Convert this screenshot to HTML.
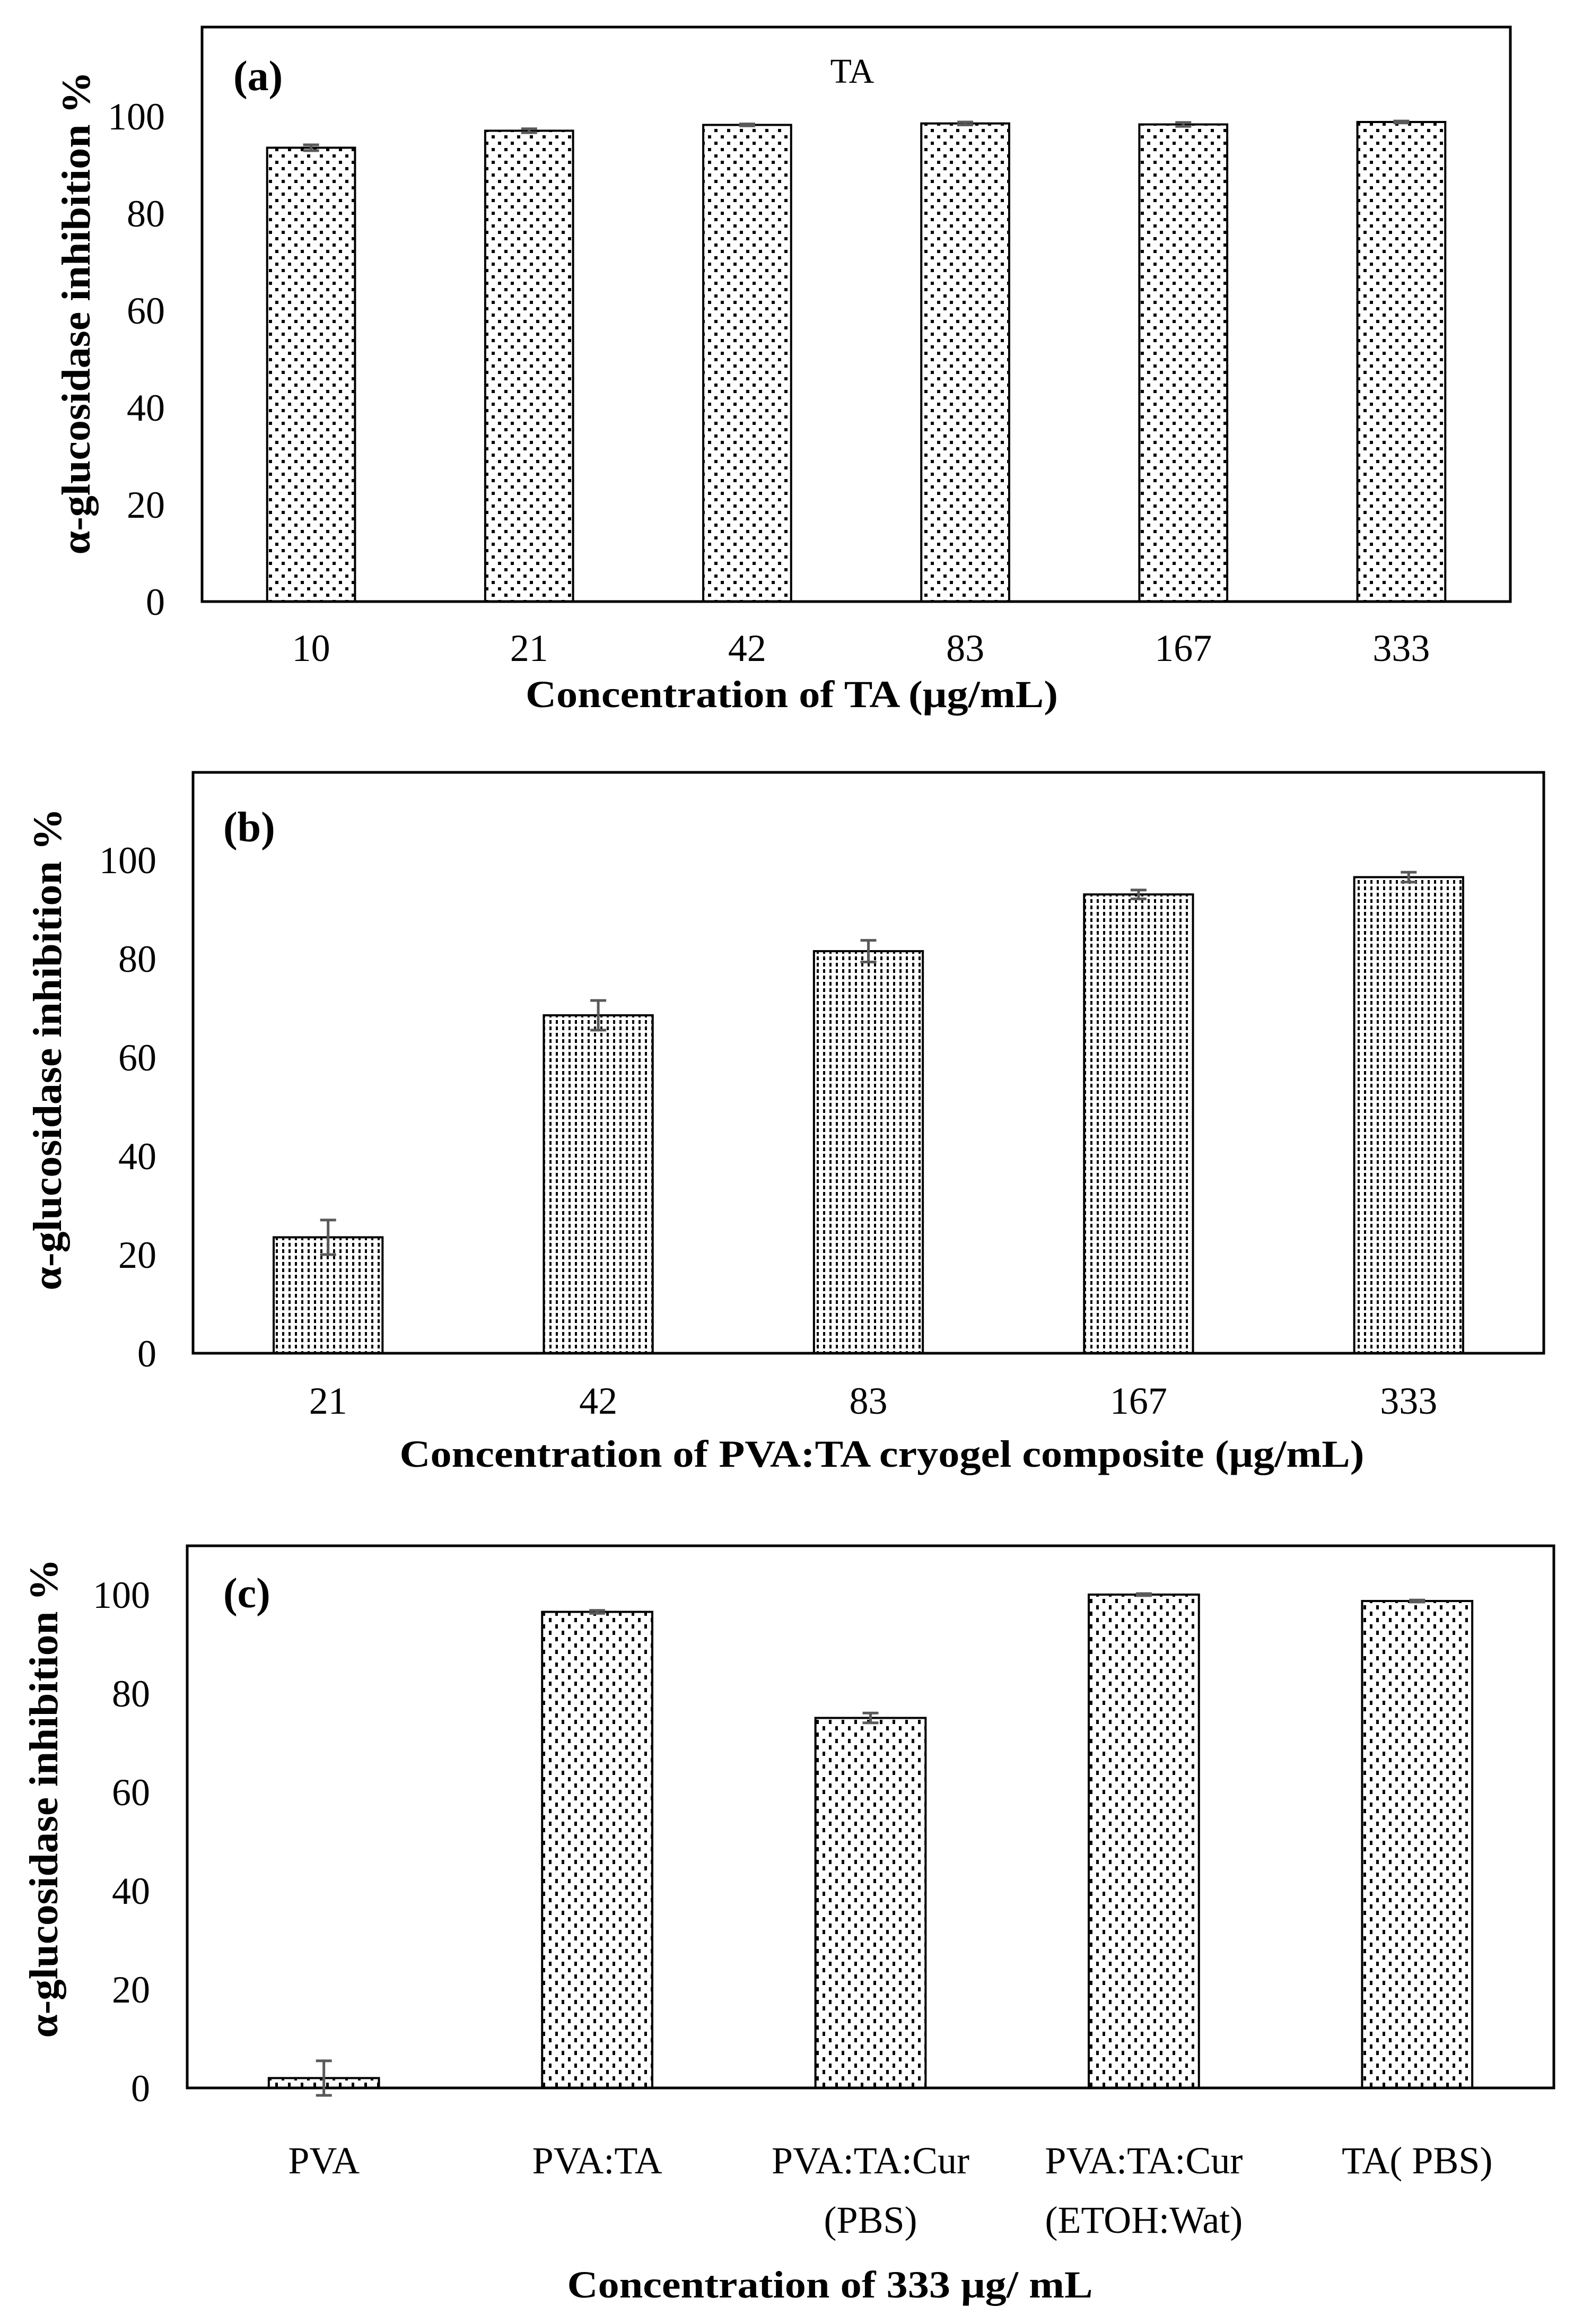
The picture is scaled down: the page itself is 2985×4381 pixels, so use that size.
<!DOCTYPE html>
<html><head><meta charset="utf-8"><style>
html,body{margin:0;padding:0;background:#fff;}
svg{display:block;}
text{font-family:"Liberation Serif",serif;fill:#000;}
</style></head><body>
<svg id="chart" width="2985" height="4381" viewBox="0 0 2985 4381" xmlns="http://www.w3.org/2000/svg">
<defs>
<pattern id="patA" width="24" height="24" patternUnits="userSpaceOnUse">
<rect x="3" y="3" width="6" height="6" fill="#000"/><rect x="15" y="15" width="6" height="6" fill="#000"/></pattern>
<pattern id="patB" width="12" height="12" patternUnits="userSpaceOnUse">
<rect x="4" y="3" width="4" height="7" fill="#000"/></pattern>
<pattern id="patC" width="24" height="24" patternUnits="userSpaceOnUse">
<rect x="3" y="2" width="5" height="8" fill="#000"/><rect x="15" y="14" width="5" height="8" fill="#000"/></pattern>
</defs>
<g id="root"></g>
</svg>
<script>
const catsA = ["10","21","42","83","167","333"];
const valsA = [93.5, 97, 98.2, 98.5, 98.3, 98.8];
const errsA = [0.6, 0.4, 0.2, 0.3, 0.4, 0.2];
const catsB = ["21","42","83","167","333"];
const valsB = [23.5, 68.5, 81.5, 93, 96.5];
const errsB = [3.5, 3, 2.2, 0.9, 1];
const catsC = [["PVA"],["PVA:TA"],["PVA:TA:Cur","(PBS)"],["PVA:TA:Cur","(ETOH:Wat)"],["TA( PBS)"]];
const valsC = [2, 96.5, 75, 100, 98.7];
const errsC = [3.5, 0.3, 1, 0.2, 0.2];
const yTicks = [0, 20, 40, 60, 80, 100];

const NS = "http://www.w3.org/2000/svg";
const root = document.getElementById('root');
function mk(tag, attrs, parent){const e=document.createElementNS(NS,tag);for(const k in attrs)e.setAttribute(k,attrs[k]);(parent||root).appendChild(e);return e;}

function panel(cfg){
  const g = mk('g',{});
  
  
  const L=cfg.left,R=cfg.right,T=cfg.top,B=cfg.bottom,k=cfg.scale;
  const y = v => B - v*k;
  const cw = (R-L)/cfg.cats.length;
  const xc = i => L + cw*(i+0.5);
  // frame
  const fr = mk('rect',{x:L,y:T,width:R-L,height:B-T,fill:'none',stroke:'#000','stroke-width':5},g);
  
  
  // y ticks
  yTicks.forEach(v=>{
    const t = mk('text',{x:cfg.tickRight,y:y(v)+25,'text-anchor':'end','font-size':72},g);
    t.textContent = v;
    
    
  });
  // bars
  cfg.cats.forEach((c,i)=>{
    const bw = cw*0.403;
    const b = mk('rect',{x:xc(i)-bw/2,y:y(cfg.vals[i]),width:bw,height:cfg.vals[i]*k,fill:'url(#'+cfg.pat+')',stroke:'#000','stroke-width':4},g);
    
    
    const e = cfg.errs[i];
    const eg = mk('g',{stroke:'#595959','stroke-width':5},g);
    
    
    mk('line',{x1:xc(i),x2:xc(i),y1:y(cfg.vals[i]+e),y2:y(cfg.vals[i]-e)},eg);
    mk('line',{x1:xc(i)-15,x2:xc(i)+15,y1:y(cfg.vals[i]+e),y2:y(cfg.vals[i]+e)},eg);
    mk('line',{x1:xc(i)-15,x2:xc(i)+15,y1:y(cfg.vals[i]-e),y2:y(cfg.vals[i]-e)},eg);
    const lines = Array.isArray(c)?c:[c];
    lines.forEach((ln,j)=>{
      const t = mk('text',{x:xc(i),y:cfg.xTickBase+j*112,'text-anchor':'middle','font-size':72},g);
      t.textContent = ln;
      
      
    });
  });
  // panel label
  const pl = mk('text',{x:cfg.lblX,y:cfg.lblY,'font-size':80,'font-weight':'bold'},g);
  pl.textContent = cfg.lbl;
  
  
  // y title
  const yt = mk('text',{x:0,y:0,'font-size':76,'font-weight':'bold','text-anchor':'middle',textLength:cfg.ytLen,lengthAdjust:'spacingAndGlyphs',transform:'translate('+cfg.ytX+','+cfg.ytY+') rotate(-90)'},g);
  yt.textContent = 'α-glucosidase inhibition %';
  
  
  // x title
  const xt = mk('text',{x:cfg.xtX,y:cfg.xtY,'font-size':72,'font-weight':'bold','text-anchor':'middle',textLength:cfg.xtLen,lengthAdjust:'spacingAndGlyphs'},g);
  xt.textContent = cfg.xt;
  
  
  return g;
}

panel({name:'panel-a',left:381,right:2848,top:51,bottom:1134,scale:9.15,cats:catsA,vals:valsA,errs:errsA,pat:'patA',
  tickRight:311,xTickBase:1246,lbl:'(a)',lblX:440,lblY:170,ytX:169,ytY:590,ytLen:911,
  xt:'Concentration of TA (μg/mL)',xtX:1493,xtY:1333,xtLen:1004});
const ta = mk('text',{x:1607,y:156,'text-anchor':'middle','font-size':66});
ta.textContent = 'TA';



panel({name:'panel-b',left:364,right:2911,top:1456,bottom:2551,scale:9.3,cats:catsB,vals:valsB,errs:errsB,pat:'patB',
  tickRight:295,xTickBase:2665,lbl:'(b)',lblX:421,lblY:1586,ytX:115,ytY:1978,ytLen:909,
  xt:'Concentration of PVA:TA cryogel composite (μg/mL)',xtX:1663,xtY:2765,xtLen:1819});

panel({name:'panel-c',left:353,right:2930,top:2914,bottom:3936,scale:9.3,cats:catsC,vals:valsC,errs:errsC,pat:'patC',
  tickRight:283,xTickBase:4097,lbl:'(c)',lblX:421,lblY:3030,ytX:108,ytY:3390,ytLen:903,
  xt:'Concentration of 333 μg/ mL',xtX:1565,xtY:4331,xtLen:991});
</script>
</body></html>
